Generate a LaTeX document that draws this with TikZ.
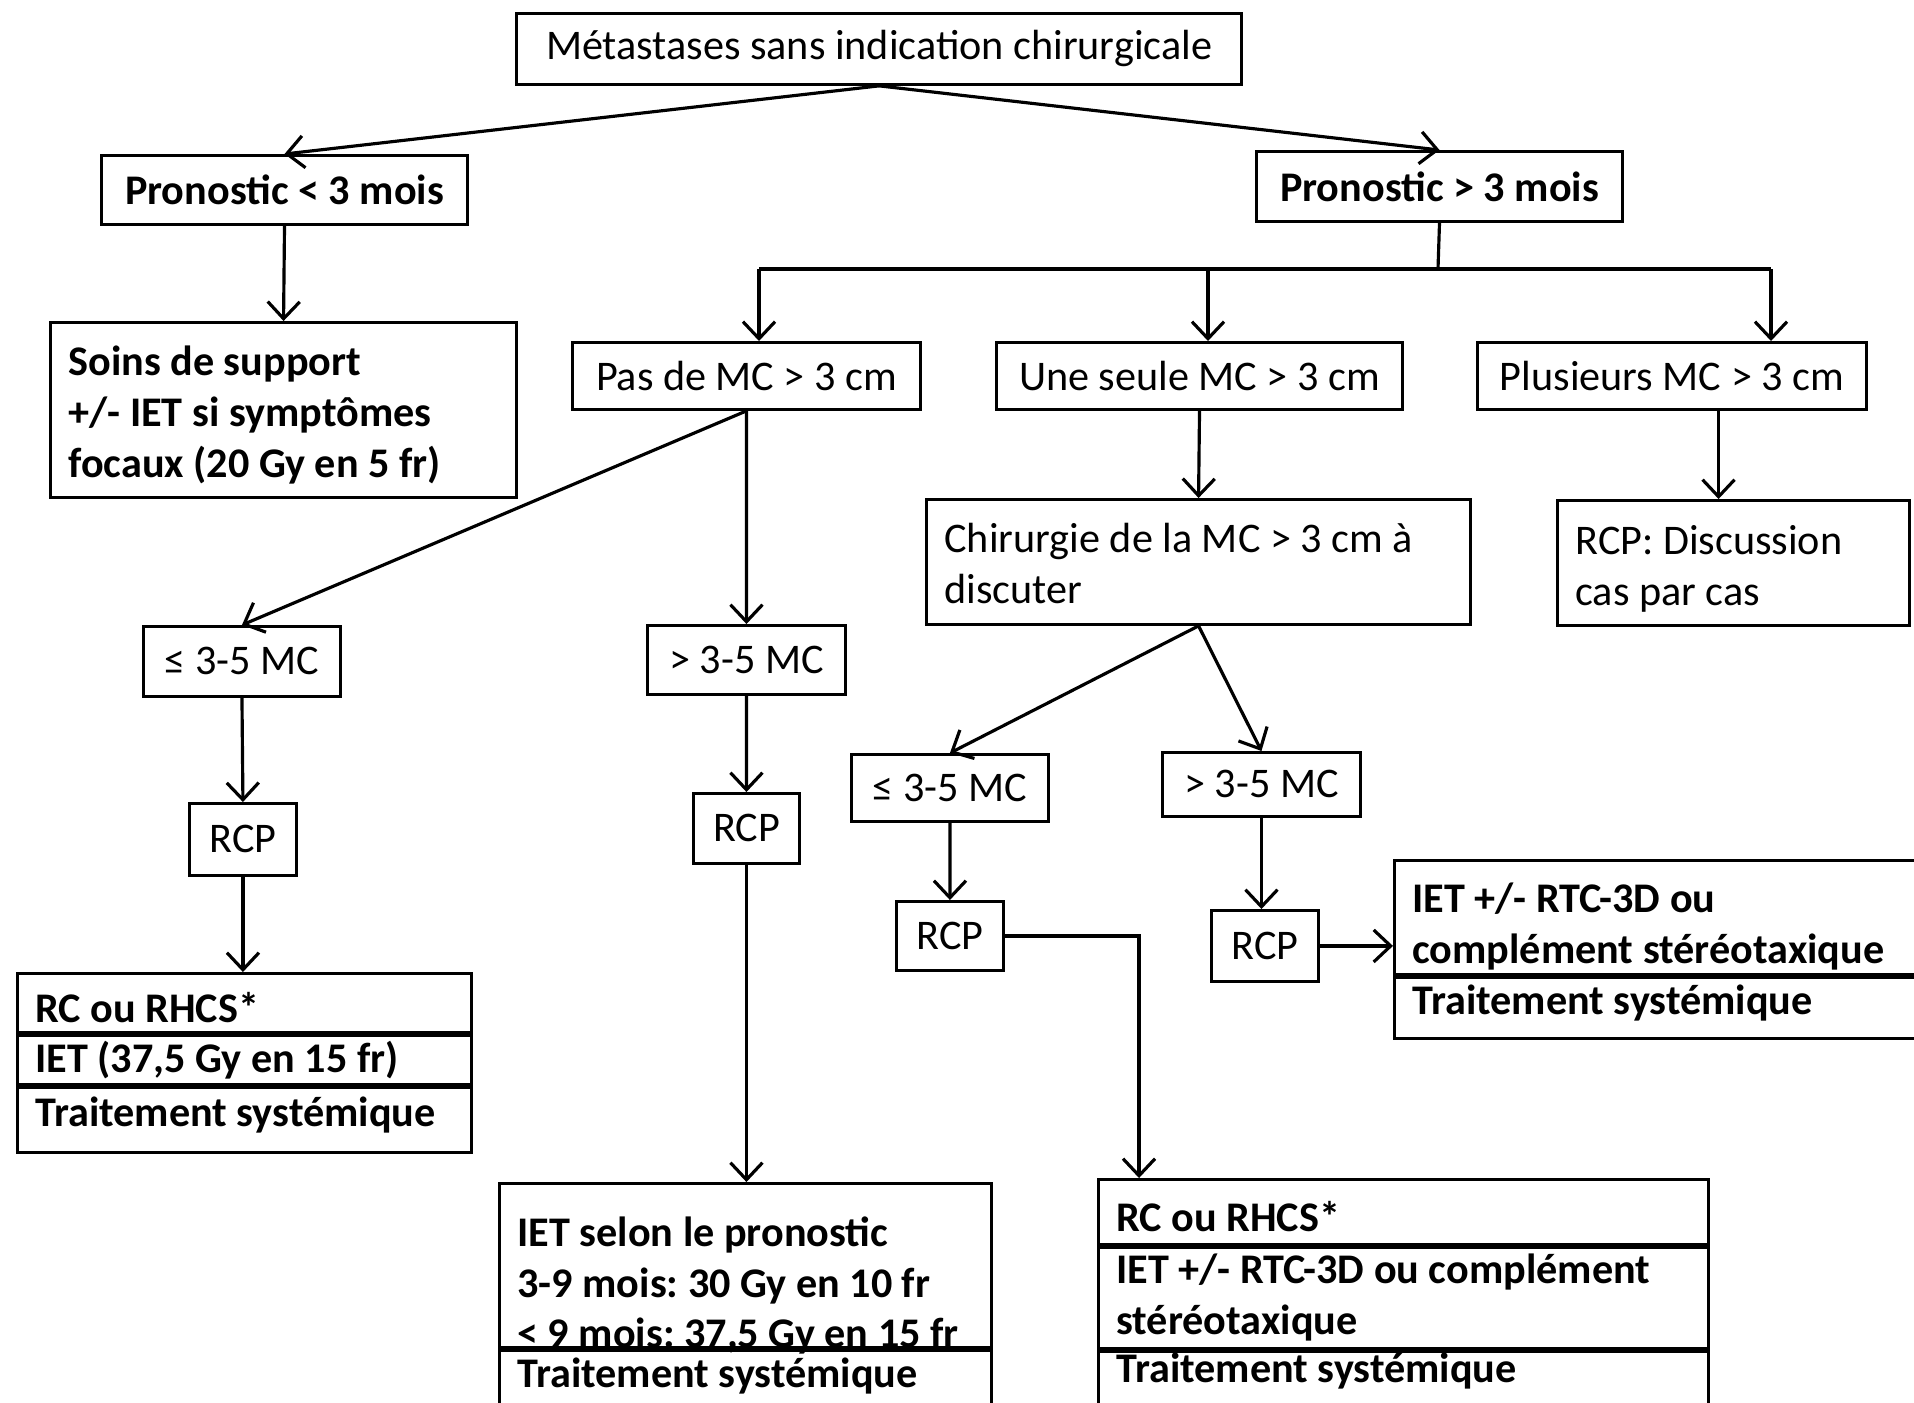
\documentclass[tikz,border=0pt]{standalone}
\usepackage{fontspec}
\setmainfont{Carlito}
\usetikzlibrary{arrows.meta}
\usetikzlibrary{calc}

% left aligned lines, optionally lowered without changing the box size
\newcommand{\boxlines}[3][0cm]{\raisebox{-#1}[\height][\depth]{\parbox{#2}{\raggedright #3}}}

\tikzset{
  box/.style={draw, line width=0.8pt, inner sep=0pt, anchor=north west,
    font=\fontsize{12}{14.5}\selectfont\frenchspacing},
  boldbox/.style={box, font=\fontsize{12}{14.5}\selectfont\frenchspacing\bfseries},
  leftbox/.style={inner xsep=0.18cm},
  arr/.style={line width=0.9pt, -{Straight Barb[length=1.7mm, width=3.2mm]}},
}

\begin{document}
\begin{tikzpicture}[x=0.01cm, y=-0.01cm]
    \useasboundingbox (0,0) rectangle (1914,1402);

    % first level
    \node[box, minimum width=7.25cm, minimum height=0.71cm] (top) at (515,12) {Métastases sans indication chirurgicale};
    \node[boldbox, minimum width=3.66cm, minimum height=0.69cm] (pl3) at (100,154) {Pronostic < 3 mois};
    \node[boldbox, minimum width=3.66cm, minimum height=0.70cm] (pg3) at (1255,150) {Pronostic > 3 mois};

    \node[boldbox, leftbox, minimum height=1.75cm] (soins) at (49,321)
        {\boxlines[0.05cm]{4.30cm}{Soins de support\\+/- IET si symptômes\\focaux (20 Gy en 5 fr)}};

    \node[box, minimum width=3.48cm, minimum height=0.67cm] (pasmc) at (571,341) {Pas de MC > 3 cm};
    \node[box, minimum width=4.06cm, minimum height=0.67cm] (unemc) at (995,341) {Une seule MC > 3 cm};
    \node[box, minimum width=3.89cm, minimum height=0.67cm] (plusmc) at (1476,341) {Plusieurs MC > 3 cm};

    \node[box, leftbox, minimum height=1.25cm] (chir) at (925,498)
        {\boxlines[0.02cm]{5.08cm}{Chirurgie de la MC > 3 cm à\\discuter}};
    \node[box, leftbox, minimum height=1.25cm] (rcpdisc) at (1556,499)
        {\boxlines[0.06cm]{3.16cm}{RCP: Discussion\\cas par cas}};

    % number of MC
    \node[box, minimum width=1.97cm, minimum height=0.70cm] (le35a) at (142,625) {≤ 3-5 MC};
    \node[box, minimum width=1.98cm, minimum height=0.69cm] (gt35a) at (646,624) {> 3-5 MC};
    \node[box, minimum width=1.97cm, minimum height=0.67cm] (le35b) at (850,753) {≤ 3-5 MC};
    \node[box, minimum width=1.98cm, minimum height=0.64cm] (gt35b) at (1161,751) {> 3-5 MC};

    \node[box, minimum width=1.07cm, minimum height=0.72cm] (rcpa) at (188,802) {RCP};
    \node[box, minimum width=1.06cm, minimum height=0.70cm] (rcpb) at (692,792) {RCP};
    \node[box, minimum width=1.07cm, minimum height=0.69cm] (rcpc) at (895,900) {RCP};
    \node[box, minimum width=1.07cm, minimum height=0.71cm] (rcpd) at (1210,909) {RCP};

    % treatments
    \node[boldbox, leftbox, minimum height=0.59cm] (rcA1) at (16,972) {\boxlines[0.05cm]{4.18cm}{RC ou RHCS*}};
    \node[boldbox, leftbox, minimum height=0.49cm] (rcA2) at (rcA1.south west) {\boxlines{4.18cm}{IET (37,5 Gy en 15 fr)}};
    \node[boldbox, leftbox, minimum height=0.65cm] (rcA3) at (rcA2.south west) {\boxlines[-0.05cm]{4.18cm}{Traitement systémique}};

    \node[boldbox, leftbox, minimum height=1.64cm] (ietS1) at (498,1182)
        {\boxlines[0.20cm]{4.56cm}{IET selon le pronostic\\3-9 mois: 30 Gy en 10 fr\\< 9 mois: 37,5 Gy en 15 fr}};
    \node[boldbox, leftbox, minimum height=0.60cm] (ietS2) at (ietS1.south west) {\boxlines[-0.045cm]{4.56cm}{Traitement systémique}};

    \node[boldbox, leftbox, minimum height=0.65cm] (rcB1) at (1097,1178) {\boxlines[0.05cm]{5.74cm}{RC ou RHCS*}};
    \node[boldbox, leftbox, minimum height=1.01cm] (rcB2) at (rcB1.south west)
        {\boxlines{5.74cm}{IET +/- RTC-3D ou complément\\stéréotaxique}};
    \node[boldbox, leftbox, minimum height=0.62cm] (rcB3) at (rcB2.south west) {\boxlines[-0.11cm]{5.74cm}{Traitement systémique}};

    \node[boldbox, leftbox, minimum height=1.14cm] (ietB1) at (1393,859)
        {\boxlines[0.09cm]{4.96cm}{IET +/- RTC-3D ou\\complément stéréotaxique}};
    \node[boldbox, leftbox, minimum height=0.61cm] (ietB2) at (ietB1.south west) {\boxlines[-0.05cm]{4.96cm}{Traitement systémique}};

    % connectors
    \draw[arr] (top.south) -- (pl3.north);
    \draw[arr] (top.south) -- (pg3.north);
    \draw[arr] (pl3.south) -- (soins.north);

    \coordinate (fork) at (1438,269);
    \coordinate (barL) at (759,269);
    \coordinate (barM) at (1208,269);
    \coordinate (barR) at (1771,269);
    \draw[line width=0.9pt] (pg3.south) -- (fork);
    \draw[line width=0.9pt] (barL) -- (barR);
    \draw[arr] (barL) -- (barL |- pasmc.north);
    \draw[arr] (barM) -- (barM |- unemc.north);
    \draw[arr] (barR) -- (barR |- plusmc.north);

    \draw[arr] (pasmc.south) -- (le35a.north);
    \draw[arr] (pasmc.south) -- (gt35a.north);
    \draw[arr] (unemc.south) -- (chir.north);
    \coordinate (plusOut) at ([xshift=0.465cm]plusmc.south);
    \draw[arr] (plusOut) -- (plusOut |- rcpdisc.north);

    \draw[arr] (chir.south) -- (le35b.north);
    \draw[arr] (chir.south) -- (gt35b.north);

    \draw[arr] (le35a.south) -- (rcpa.north);
    \draw[arr] (rcpa.south) -- (rcpa.south |- rcA1.north);
    \draw[arr] (gt35a.south) -- (rcpb.north);
    \draw[arr] (rcpb.south) -- (rcpb.south |- ietS1.north);
    \draw[arr] (le35b.south) -- (rcpc.north);
    \draw[arr] (rcpc.east) -| ([xshift=0.42cm]rcB1.north west);
    \draw[arr] (gt35b.south) -- (gt35b.south |- rcpd.north);
    \draw[arr] (rcpd.east) -- (rcpd.east -| ietB1.west);

\end{tikzpicture}
\end{document}
